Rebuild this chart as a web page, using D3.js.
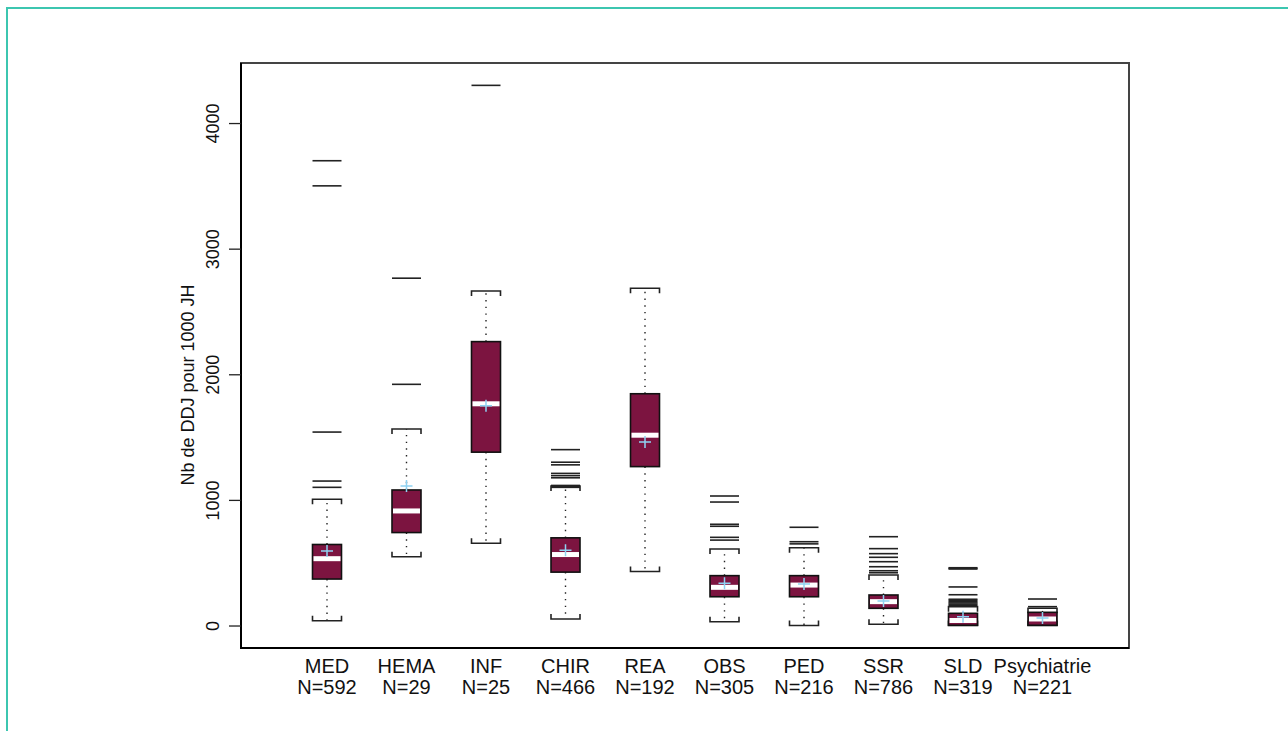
<!DOCTYPE html>
<html>
<head>
<meta charset="utf-8">
<script src="https://cdn.jsdelivr.net/npm/d3@7/dist/d3.min.js"></script>
<style>
  html, body { margin: 0; padding: 0; background: #fff; }
  svg { display: block; }
  text { font-family: "Liberation Sans", Arial, sans-serif; fill: #111; }
</style>
</head>
<body>
<svg id="chart" width="1288" height="731"></svg>
<script>
// ---- data ----
const categories = ["MED", "HEMA", "INF", "CHIR", "REA", "OBS", "PED", "SSR", "SLD", "Psychiatrie"];
const counts     = [592, 29, 25, 466, 192, 305, 216, 786, 319, 221];
const q1         = [370, 740, 1380, 425, 1265, 229, 229, 137, 2, 2];
const medians    = [532, 912, 1765, 565, 1515, 304, 322, 190, 40, 52];
const q3         = [645, 1079, 2260, 698, 1845, 397, 397, 243, 97, 105];
const means      = [593, 1111, 1750, 600, 1460, 336, 330, 196, 70, 60];
const whiskerLow  = [38, 548, 655, 52, 430, 30, 0, 10, 0, 0];
const whiskerHigh = [1005, 1564, 2663, 1110, 2685, 609, 619, 402, 150, 137];
const outliers = [
  [1100, 1150, 1540, 3500, 3700],
  [1920, 2765],
  [4300],
  [1100, 1115, 1176, 1193, 1211, 1279, 1300, 1400],
  [],
  [680, 702, 790, 806, 983, 1031],
  [650, 667, 782],
  [420, 436, 468, 508, 543, 572, 612, 707],
  [160, 170, 180, 190, 200, 209, 245, 307, 450, 455, 460],
  [150, 211]
];
const yTicks = [0, 1000, 2000, 3000, 4000];
const yTitle = "Nb de DDJ pour 1000 JH";

// ---- layout ----
const svg = d3.select("#chart");
const plot = { left: 241, right: 1129, top: 63, bottom: 648 };
const boxW = 29;

svg.append("rect").attr("width", 1288).attr("height", 731).attr("fill", "#fff");
// teal outer frame
svg.append("path").attr("d", "M7,731V8H1288").attr("fill", "none")
  .attr("stroke", "#3cc6b0").attr("stroke-width", 2);

const y = d3.scaleLinear().domain([-179, 4478]).range([plot.bottom, plot.top]);
const x = d3.scalePoint().domain(categories).range([327, 1042.5]);

// frame
svg.append("rect")
  .attr("x", plot.left).attr("y", plot.top)
  .attr("width", plot.right - plot.left).attr("height", plot.bottom - plot.top)
  .attr("fill", "none").attr("stroke", "#444").attr("stroke-width", 2);
svg.append("path")
  .attr("d", `M${plot.left},${plot.top}V${plot.bottom}H${plot.right}`)
  .attr("fill", "none").attr("stroke", "#000").attr("stroke-width", 2);

// y axis
const yAxis = d3.axisLeft(y).tickValues(yTicks).tickSize(12).tickPadding(0).tickFormat(d3.format("d"));
const gy = svg.append("g").attr("transform", `translate(${plot.left},0)`).call(yAxis);
gy.select(".domain").remove();
gy.selectAll(".tick line").attr("stroke", "#222").attr("stroke-width", 1.3);
gy.selectAll(".tick text")
  .attr("font-size", 18)
  .attr("text-anchor", "middle")
  .attr("x", 0).attr("dy", 0)
  .attr("transform", "translate(-22,0) rotate(-90)")
  .style("fill", "#111");

svg.append("text")
  .attr("transform", `translate(194,385) rotate(-90)`)
  .attr("text-anchor", "middle")
  .attr("font-size", 18)
  .text(yTitle);

// x labels
const xl = svg.append("g");
categories.forEach((c, i) => {
  const t = xl.append("text").attr("x", x(c)).attr("text-anchor", "middle").attr("font-size", 20);
  t.append("tspan").attr("x", x(c)).attr("y", 673).text(c);
  t.append("tspan").attr("x", x(c)).attr("y", 694).text("N=" + counts[i]);
});

// boxes
const g = svg.append("g");
categories.forEach((c, i) => {
  const cx = x(c), x0 = cx - boxW / 2, x1 = cx + boxW / 2;
  // outliers
  outliers[i].forEach(v => {
    g.append("line").attr("x1", x0).attr("x2", x1).attr("y1", y(v)).attr("y2", y(v))
      .attr("stroke", "#222").attr("stroke-width", 1.6);
  });
  // whiskers (dotted)
  g.append("line").attr("x1", cx).attr("x2", cx).attr("y1", y(q3[i])).attr("y2", y(whiskerHigh[i]))
    .attr("stroke", "#222").attr("stroke-width", 1.4).attr("stroke-dasharray", "1.4,5.3");
  g.append("line").attr("x1", cx).attr("x2", cx).attr("y1", y(q1[i])).attr("y2", y(whiskerLow[i]))
    .attr("stroke", "#222").attr("stroke-width", 1.4).attr("stroke-dasharray", "1.4,5.3");
  // caps
  const yh = y(whiskerHigh[i]), yl = y(whiskerLow[i]);
  g.append("path").attr("d", `M${x0},${yh + 5}V${yh}H${x1}V${yh + 5}`)
    .attr("fill", "none").attr("stroke", "#222").attr("stroke-width", 1.6);
  g.append("path").attr("d", `M${x0},${yl - 5}V${yl}H${x1}V${yl - 5}`)
    .attr("fill", "none").attr("stroke", "#222").attr("stroke-width", 1.6);
  // box
  g.append("rect").attr("x", x0).attr("y", y(q3[i]))
    .attr("width", boxW).attr("height", y(q1[i]) - y(q3[i]))
    .attr("fill", "#7c1440").attr("stroke", "#111").attr("stroke-width", 1.6);
  // median band
  g.append("rect").attr("x", x0 + 1).attr("y", y(medians[i]) - 2.5)
    .attr("width", boxW - 2).attr("height", 5).attr("fill", "#fff");
  // mean marker
  const my = y(means[i]);
  g.append("path").attr("d", `M${cx - 6},${my}H${cx + 6}M${cx},${my - 6}V${my + 6}`)
    .attr("stroke", "#8fd2f2").attr("stroke-width", 1.5).attr("fill", "none");
});
</script>
</body>
</html>
